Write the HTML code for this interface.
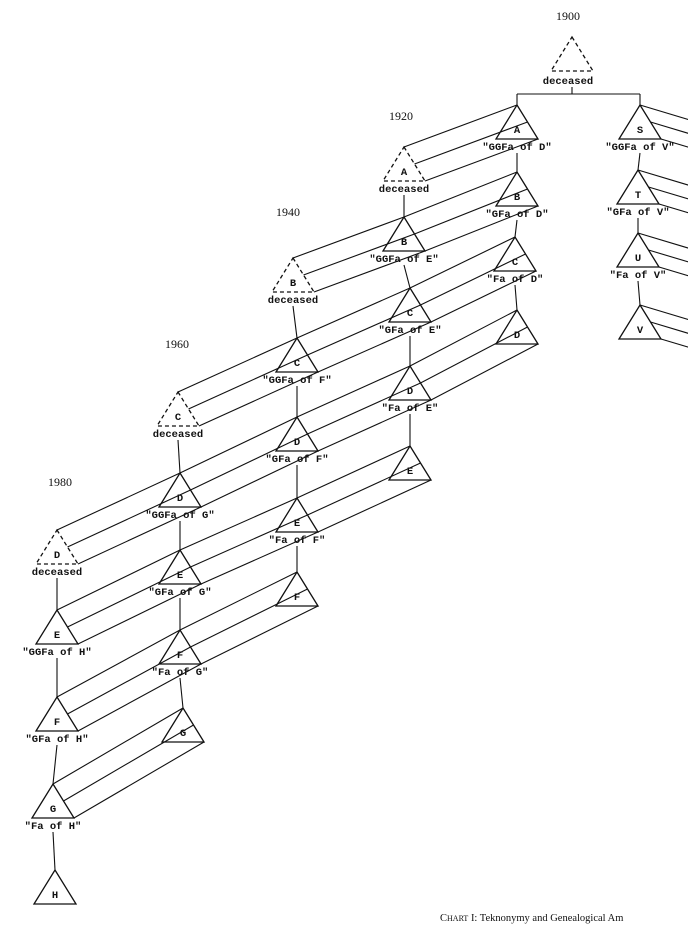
<!DOCTYPE html>
<html><head><meta charset="utf-8"><style>
html,body{margin:0;padding:0;background:#fff;}
svg{display:block}
text{font-family:"Liberation Mono",monospace;font-size:10.5px;fill:#111;font-weight:bold}
.yr{font-family:"Liberation Serif",serif;font-size:12px;font-weight:normal}
.cap{font-family:"Liberation Serif",serif;font-size:10.5px;font-weight:normal}
</style></head><body>
<svg id="s" width="688" height="939" viewBox="0 0 688 939" xmlns="http://www.w3.org/2000/svg"></svg>
<script>
var s=document.getElementById('s'),out='';
var H=34,W=21;
function line(a,b,c,d,ex){out+='<line x1="'+a+'" y1="'+b+'" x2="'+c+'" y2="'+d+'" stroke="#111" stroke-width="1.1" '+(ex||'')+'/>';}
function txt(x,y,t,cls){out+='<text x="'+x+'" y="'+y+'" text-anchor="middle"'+(cls?' class="'+cls+'"':'')+'>'+t+'</text>';}
function tri(x,y,l,dash){var d=dash?'stroke-dasharray="4,3"':'';
 out+='<polygon points="'+x+','+y+' '+(x+W)+','+(y+H)+' '+(x-W)+','+(y+H)+'" fill="none" stroke="#111" stroke-width="1.3" '+d+'/>';
 if(l)txt(x,y+H-6,l);}
function pts(t){return [[t[0],t[1]],[t[0]+W/2,t[1]+H/2],[t[0]+W,t[1]+H]];}
var c1900r=[[517,105,'A',0,'"GGFa of D"'],[517,172,'B',0,'"GFa of D"'],[515,237,'C',0,'"Fa of D"'],[517,310,'D',0,'']];
var cS=[[640,105,'S',0,'"GGFa of V"'],[638,170,'T',0,'"GFa of V"'],[638,233,'U',0,'"Fa of V"'],[640,305,'V',0,'']];
var c1920=[[404,147,'A',1,'deceased'],[404,217,'B',0,'"GGFa of E"'],[410,288,'C',0,'"GFa of E"'],[410,366,'D',0,'"Fa of E"'],[410,446,'E',0,'']];
var c1940=[[293,258,'B',1,'deceased'],[297,338,'C',0,'"GGFa of F"'],[297,417,'D',0,'"GFa of F"'],[297,498,'E',0,'"Fa of F"'],[297,572,'F',0,'']];
var c1960=[[178,392,'C',1,'deceased'],[180,473,'D',0,'"GGFa of G"'],[180,550,'E',0,'"GFa of G"'],[180,630,'F',0,'"Fa of G"'],[183,708,'G',0,'']];
var c1980=[[57,530,'D',1,'deceased'],[57,610,'E',0,'"GGFa of H"'],[57,697,'F',0,'"GFa of H"'],[53,784,'G',0,'"Fa of H"'],[55,870,'H',0,'']];
var cols=[c1980,c1960,c1940,c1920,c1900r];
for(var i=0;i<cols.length-1;i++){cols[i].forEach(function(a){cols[i+1].forEach(function(b){if(a[2]==b[2]){var p=pts(a),q=pts(b);for(var k=0;k<3;k++)line(p[k][0],p[k][1],q[k][0],q[k][1]);}});});}
cS.forEach(function(a){var p=pts(a);for(var k=0;k<3;k++)line(p[k][0],p[k][1],p[k][0]+200,p[k][1]+60);});
[c1980,c1960,c1940,c1920,c1900r,cS].forEach(function(c){
 for(var j=0;j<c.length;j++){var a=c[j];tri(a[0],a[1],a[2],a[3]);
  if(a[4])txt(a[0],a[1]+H+11,a[4]);
  if(j<c.length-1){var b=c[j+1];line(a[0],a[1]+H+14,b[0],b[1]);}}
});
tri(572,37,'',1);txt(568,84,'deceased');
line(572,87,572,94);line(517,94,640,94);line(517,94,517,105);line(640,94,640,105);
txt(568,20,'1900','yr');txt(401,120,'1920','yr');txt(288,216,'1940','yr');txt(177,348,'1960','yr');txt(60,486,'1980','yr');
out+='<text x="440" y="921" class="cap">C<tspan font-size="8">HART</tspan> I: Teknonymy and Genealogical Am</text>';
s.innerHTML=out;
</script>
</body></html>
